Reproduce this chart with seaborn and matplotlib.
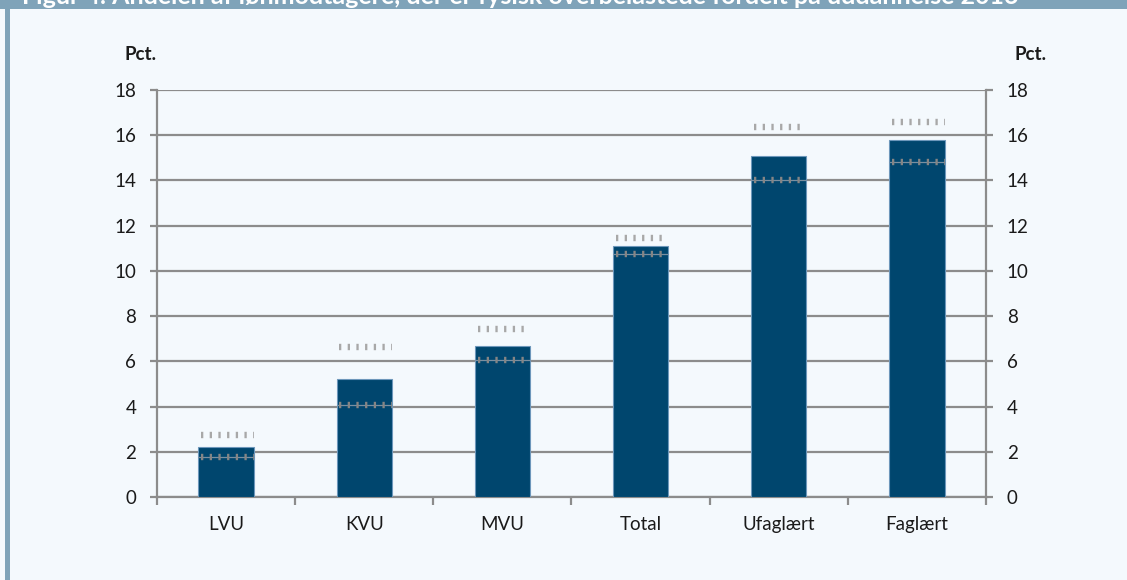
import matplotlib
matplotlib.use("Agg")
import matplotlib.pyplot as plt
import seaborn as sns
import pandas as pd
from matplotlib.patches import Rectangle
from matplotlib.ticker import FixedLocator

# ---- data ----
categories = ["LVU", "KVU", "MVU", "Total", "Ufaglært", "Faglært"]
values = [2.2, 5.2, 6.7, 11.1, 15.1, 15.8]
ci_upper = [2.75, 6.65, 7.45, 11.45, 16.35, 16.6]
ci_lower = [1.75, 4.05, 6.05, 10.75, 14.0, 14.8]
y_ticks = [0, 2, 4, 6, 8, 10, 12, 14, 16, 18]
title = "Figur 4. Andelen af lønmodtagere, der er fysisk overbelastede fordelt på uddannelse 2016"
unit_label = "Pct."

BG = "#f4f9fd"
BAR = "#00466e"
GRID = "#8c8c8c"
FRAME = "#7fa3b9"

sns.set_theme(style="white")
plt.rcParams["font.family"] = ["Lato", "DejaVu Sans"]

fig = plt.figure(figsize=(11.27, 5.8), dpi=100, facecolor=BG)
W, H = 1127, 580
ax = fig.add_axes([157 / W, (H - 497) / H, (986 - 157) / W, (497 - 90) / H])
ax.set_facecolor(BG)

df = pd.DataFrame({"cat": categories, "val": values})
sns.barplot(data=df, x="cat", y="val", color=BAR, width=0.4, saturation=1,
            edgecolor="#6d97bb", linewidth=0.8, ax=ax, zorder=3)

ax.set_ylim(0, 18)
ax.set_xlim(-0.5, len(categories) - 0.5)
ax.yaxis.set_major_locator(FixedLocator(y_ticks))
ax.grid(axis="y", color=GRID, linewidth=1.6, zorder=0)
ax.grid(axis="x", visible=False)
ax.set_axisbelow(True)

# confidence interval markers
xs = ax.get_xticks()
hw = 0.2
for x, lo, hi in zip(xs, ci_lower, ci_upper):
    ax.hlines(hi, x - hw + 0.02, x + hw, colors="#a8a8a8", linewidth=4.6,
              linestyles=(0, (0.36, 1.0)), zorder=4)
    ax.hlines(lo, x - hw, x + hw, colors="#7a8fa0", linewidth=0.9, zorder=4)
    ax.hlines(lo, x - hw + 0.02, x + hw, colors="#858585", linewidth=4.6,
              linestyles=(0, (0.36, 1.0)), zorder=5)

# spines
for s in ["left", "right", "bottom"]:
    ax.spines[s].set_visible(True)
    ax.spines[s].set_color(GRID)
    ax.spines[s].set_linewidth(1.6)
ax.spines["top"].set_visible(False)

ax.set_xlabel("")
ax.set_ylabel("")
ax.tick_params(axis="x", which="major", length=0, pad=14, labelsize=13.5, colors="#1a1a1a")
ax.xaxis.set_minor_locator(FixedLocator([i - 0.5 for i in range(len(categories) + 1)]))
ax.tick_params(axis="x", which="minor", length=6, width=1.6, color=GRID, direction="out", bottom=True)
ax.tick_params(axis="y", which="major", length=5, width=1.6, color=GRID, direction="out",
               left=True, right=True, labelleft=True, labelright=True,
               labelsize=13.5, labelcolor="#1a1a1a", pad=10)

# unit labels
fig.text(140 / W, 1 - 55 / H, unit_label, ha="center", va="center",
         fontsize=13.5, fontweight="bold", color="#1a1a1a")
fig.text(1030 / W, 1 - 55 / H, unit_label, ha="center", va="center",
         fontsize=13.5, fontweight="bold", color="#1a1a1a")

# frame decoration (banner + left strip)
fig.patches.append(Rectangle((0, 1 - 9 / H), 1, 9 / H, transform=fig.transFigure,
                             facecolor=FRAME, edgecolor="none", zorder=0))
fig.patches.append(Rectangle((5 / W, 0), 5 / W, 1, transform=fig.transFigure,
                             facecolor=FRAME, edgecolor="none", zorder=0))
fig.text(22 / W, 1 - 4 / H, title, ha="left", va="baseline", fontsize=18,
         fontweight="bold", color="white")

fig.savefig("out.png", dpi=100, facecolor=BG)
